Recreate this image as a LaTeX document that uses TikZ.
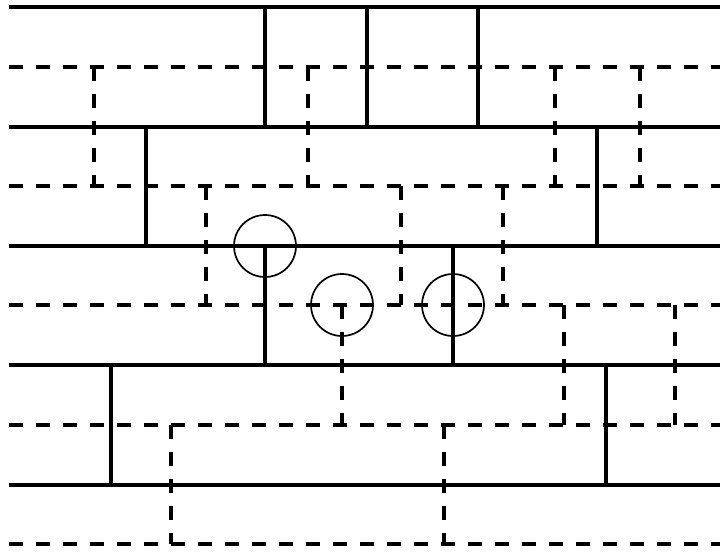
\documentclass[tikz,border=0pt]{standalone}
\begin{document}
\begin{tikzpicture}[x=1pt,y=-1pt,
  solidline/.style={line width=3.2pt},
  dashline/.style={line width=3.2pt,dash pattern=on 13.5pt off 13.5pt},
  ring/.style={line width=1.7pt}]
\useasboundingbox (0,0) rectangle (720,552);
% horizontal solid lines
\foreach \y in {7,127,246,365,485}
  \draw[solidline] (9,\y) -- (720,\y);
% horizontal dashed lines
\foreach \y in {67,186,305,425,544}
  \draw[dashline] (9,\y) -- (720,\y);
% vertical solid lines
\foreach \x in {265,367,478} \draw[solidline] (\x,7) -- (\x,127);
\foreach \x in {146,597} \draw[solidline] (\x,127) -- (\x,246);
\foreach \x in {265,453} \draw[solidline] (\x,246) -- (\x,365);
\foreach \x in {111,606} \draw[solidline] (\x,365) -- (\x,485);
% vertical dashed lines
\foreach \x in {94,308,555,640} \draw[dashline] (\x,67) -- (\x,186);
\foreach \x in {206,401,503} \draw[dashline] (\x,186) -- (\x,305);
\foreach \x in {342,564,675} \draw[dashline] (\x,305) -- (\x,425);
\foreach \x in {171,444} \draw[dashline] (\x,425) -- (\x,544);
% circles
\node[draw,circle,ring,minimum size=62pt,inner sep=0pt] (c1) at (265,246) {};
\node[draw,circle,ring,minimum size=62pt,inner sep=0pt] (c2) at (342,305) {};
\node[draw,circle,ring,minimum size=62pt,inner sep=0pt] (c3) at (453,305) {};
\end{tikzpicture}
\end{document}
